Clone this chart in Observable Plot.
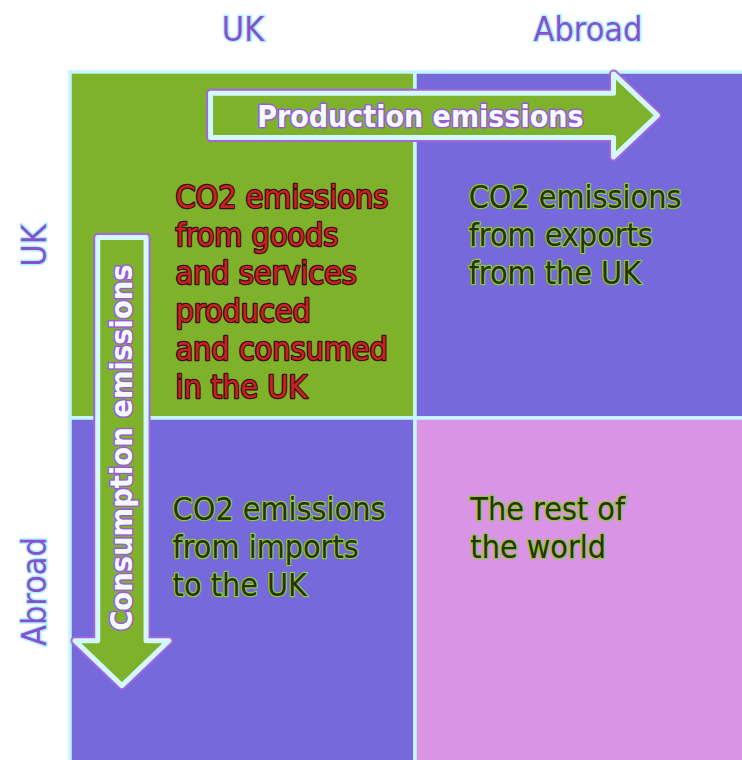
<!DOCTYPE html>
<html><head><meta charset="utf-8">
<script src="https://cdn.jsdelivr.net/npm/d3@7"></script>
<script src="https://cdn.jsdelivr.net/npm/@observablehq/plot@0.6"></script>
<style>html,body{margin:0;padding:0;background:#fff;overflow:hidden}</style>
</head><body><div id="chart"></div>
<script>
// --- data ---
const producedIn = ["UK", "Abroad"];      // columns
const consumedIn = ["UK", "Abroad"];      // rows
const cellTexts = [
  "CO2 emissions\nfrom goods\nand services\nproduced\nand consumed\nin the UK",
  "CO2 emissions\nfrom exports\nfrom the UK",
  "CO2 emissions\nfrom imports\nto the UK",
  "The rest of\nthe world"
];
const arrowLabels = ["Production emissions", "Consumption emissions"];

// --- layout / style ---
const FONT = "DejaVu Sans Condensed, DejaVu Sans, sans-serif";
const cellFill = ["#7db22a", "#7569dc", "#7569dc", "#da94e6"];
const textFill = ["#c82222", "#2a3010", "#2a3010", "#2a3010"];
const textHalo = ["#3a0c0c", "#8ccc30", "#8ccc30", "#8ccc30"];
const textPos = [[0.304, 0.313], [1.154, 0.313], [0.296, 1.215], [1.159, 1.215]];
const arrowGeom = [
  {dir: "right", start: 0.406, axis: 0.124, headBase: 1.574, tip: 1.701, shaftHalf: 0.064, headHalf: 0.12, label: [1.014, 0.13]},
  {dir: "down", start: 0.477, axis: 0.149, headBase: 1.642, tip: 1.772, shaftHalf: 0.07, headHalf: 0.136, label: [0.149, 1.084]}
];

const cells = [];
consumedIn.forEach((r, ri) => producedIn.forEach((c, ci) => {
  const i = ri * 2 + ci;
  cells.push({row: r, col: c, x1: ci, x2: ci + 1, y1: ri, y2: ri + 1,
    text: cellTexts[i], fill: cellFill[i], tf: textFill[i], th: textHalo[i],
    tx: textPos[i][0], ty: textPos[i][1]});
}));

function arrowPoints(a, k) {
  const pts = a.dir === "right"
    ? [[a.start, a.axis - a.shaftHalf], [a.headBase, a.axis - a.shaftHalf], [a.headBase, a.axis - a.headHalf],
       [a.tip, a.axis], [a.headBase, a.axis + a.headHalf], [a.headBase, a.axis + a.shaftHalf], [a.start, a.axis + a.shaftHalf]]
    : [[a.axis - a.shaftHalf, a.start], [a.axis - a.shaftHalf, a.headBase], [a.axis - a.headHalf, a.headBase],
       [a.axis, a.tip], [a.axis + a.headHalf, a.headBase], [a.axis + a.shaftHalf, a.headBase], [a.axis + a.shaftHalf, a.start]];
  return pts.map(([x, y]) => ({x, y, k}));
}
const arrowPts = arrowGeom.flatMap((a, k) => arrowPoints(a, k));
const arrowText = arrowGeom.map((a, k) => ({x: a.label[0], y: a.label[1], text: arrowLabels[k], rotate: a.dir === "down" ? -90 : 0}));

const W = 742, H = 760, ML = 70, MT = 72;
const chart = Plot.plot({
  width: W, height: H,
  marginLeft: ML, marginTop: MT, marginRight: 0, marginBottom: 0,
  x: {domain: [0, (W - ML) / 345], axis: null},
  y: {domain: [0, (H - MT) / 346], reverse: true, axis: null},
  style: {background: "white", fontFamily: FONT},
  marks: [
    Plot.rect(cells, {x1: "x1", x2: "x2", y1: "y1", y2: "y2", fill: "fill", stroke: "#c6f6ff", strokeWidth: 3.5}),
    Plot.axisX({anchor: "top", ticks: [0.5, 1.5], tickFormat: (d) => producedIn[d < 1 ? 0 : 1], tickSize: 0, tickPadding: 32,
      fontSize: 34, fontFamily: FONT, fill: "#8650d0", textStroke: "#b4f2ff", textStrokeWidth: 3, label: null}),
    Plot.axisY({anchor: "left", ticks: [0.5, 1.5], tickFormat: (d) => consumedIn[d < 1 ? 0 : 1], tickSize: 0, tickPadding: 25, tickRotate: -90,
      fontSize: 34, fontFamily: FONT, fill: "#8650d0", textStroke: "#b4f2ff", textStrokeWidth: 3, label: null}),
    Plot.line(arrowPts, {x: "x", y: "y", z: "k", curve: "linear-closed", stroke: "#a466dc", strokeWidth: 9, fill: "none"}),
    Plot.line(arrowPts, {x: "x", y: "y", z: "k", curve: "linear-closed", stroke: "#d4f8ff", strokeWidth: 5, fill: "#7db22a"}),
    Plot.text(arrowText.filter(d => d.rotate === 0), {x: "x", y: "y", text: "text", fontSize: 30, fontWeight: "bold", fontFamily: FONT,
      fill: "#f2fcff", stroke: "#9a5ad8", strokeWidth: 3}),
    Plot.text(arrowText.filter(d => d.rotate !== 0), {x: "x", y: "y", text: "text", rotate: -90, fontSize: 30.5, fontWeight: "bold", fontFamily: FONT,
      fill: "#f2fcff", stroke: "#9a5ad8", strokeWidth: 3}),
    Plot.text(cells, {x: "tx", y: "ty", text: "text", textAnchor: "start", lineAnchor: "top", lineHeight: 1.19,
      fontSize: 32, fontFamily: FONT, fill: "tf", stroke: "th", strokeWidth: 2.5})
  ]
});
document.getElementById("chart").appendChild(chart);
</script>
</body></html>
